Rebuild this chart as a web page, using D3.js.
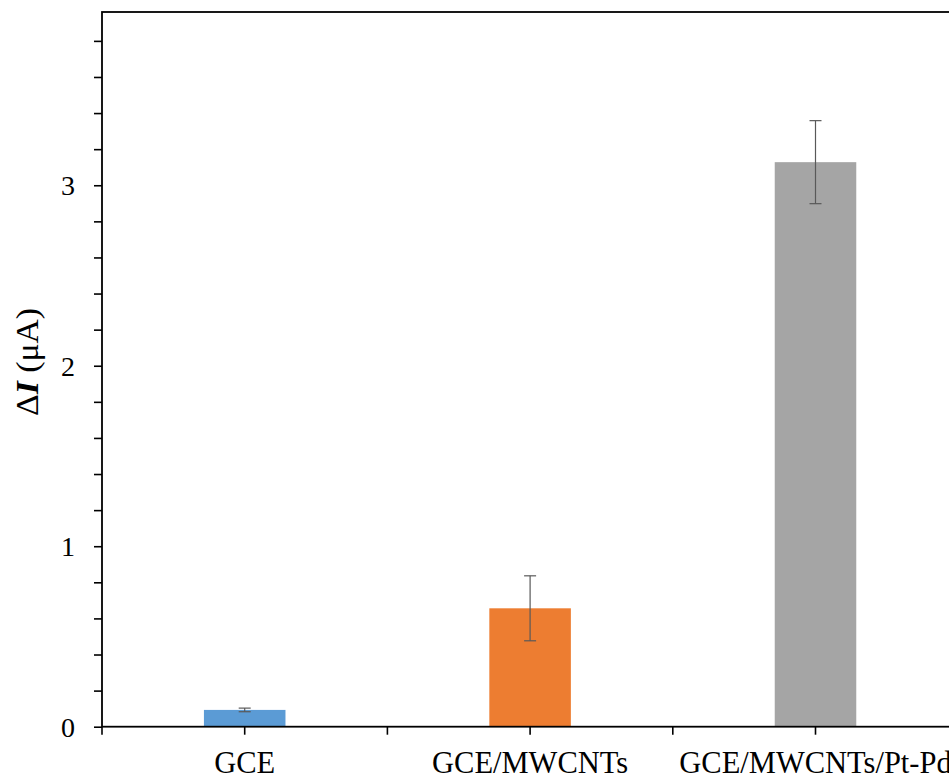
<!DOCTYPE html>
<html>
<head>
<meta charset="utf-8">
<script src="https://cdn.jsdelivr.net/npm/d3@7"></script>
<style>
  html, body { margin: 0; padding: 0; background: #fff; overflow: hidden; }
  svg { display: block; }
</style>
</head>
<body>
<svg id="chart" width="949" height="780"></svg>
<script>
// ---- data ----
const categories = ["GCE", "GCE/MWCNTs", "GCE/MWCNTs/Pt-Pd"];
const values = [0.093, 0.656, 3.128];
const errors = [0.010, 0.180, 0.230];
const colors = ["#5B9BD5", "#ED7D31", "#A5A5A5"];
const yMajorTicks = [0, 1, 2, 3];
const yMinorStep = 0.2;
const yMax = 3.96;

// ---- layout ----
(function () {
const svg = d3.select("#chart");
const mLeft = 102, mRight = 958.2, mBottom = 726.7, mTop = 12;
const font = "'Liberation Serif', 'Times New Roman', serif";

const x = d3.scaleBand().domain(categories).range([mLeft, mRight]).paddingInner(0).paddingOuter(0);
const y = d3.scaleLinear().domain([0, yMax]).range([mBottom, mTop]);
const bw = x.bandwidth();
const barW = bw / 3.5;

// bars
svg.append("g").selectAll("rect").data(categories).join("rect")
  .attr("x", (d) => x(d) + bw / 2 - barW / 2)
  .attr("y", (d, i) => y(values[i]))
  .attr("width", barW)
  .attr("height", (d, i) => y(0) - y(values[i]))
  .attr("fill", (d, i) => colors[i]);

// error bars
const eg = svg.append("g").attr("stroke", "#595959").attr("stroke-width", 1.2).attr("fill", "none");
categories.forEach((c, i) => {
  const cx = x(c) + bw / 2;
  const y1 = y(values[i] + errors[i]), y2 = y(values[i] - errors[i]);
  eg.append("line").attr("x1", cx).attr("x2", cx).attr("y1", y1).attr("y2", y2);
  eg.append("line").attr("x1", cx - 6).attr("x2", cx + 6).attr("y1", y1).attr("y2", y1);
  eg.append("line").attr("x1", cx - 6).attr("x2", cx + 6).attr("y1", y2).attr("y2", y2);
});

// y axis with minor ticks
const allTicks = d3.range(0, yMax, yMinorStep).map(v => +v.toFixed(2));
const yAxis = d3.axisLeft(y).tickValues(allTicks).tickSize(8).tickSizeOuter(0)
  .tickFormat(d => yMajorTicks.includes(d) ? d3.format("d")(d) : "");
const yg = svg.append("g").attr("transform", `translate(${mLeft},0)`).call(yAxis);
yg.select(".domain").remove();
yg.selectAll(".tick line").attr("stroke", "#000").attr("stroke-width", 1.6);
yg.selectAll(".tick text").attr("x", -27).attr("dy", "0.34em")
  .style("font-family", font).style("font-size", "28px").attr("fill", "#000");

// x axis ticks at boundaries and centers
const xTicks = [];
categories.forEach(c => { xTicks.push(x(c)); xTicks.push(x(c) + bw / 2); });
xTicks.push(mRight);
svg.append("g").selectAll("line").data(xTicks).join("line")
  .attr("x1", d => d).attr("x2", d => d).attr("y1", mBottom).attr("y2", mBottom + 8)
  .attr("stroke", "#000").attr("stroke-width", 1.6);

// x labels
svg.append("g").selectAll("text").data(categories).join("text")
  .attr("x", d => x(d) + bw / 2).attr("y", 773)
  .attr("text-anchor", "middle")
  .style("font-family", font).style("font-size", "30.5px").attr("fill", "#000")
  .text(d => d);

// frame
svg.append("rect").attr("x", mLeft).attr("y", mTop).attr("width", mRight - mLeft).attr("height", mBottom - mTop)
  .attr("fill", "none").attr("stroke", "#000").attr("stroke-width", 1.8);

// y label
const yl = svg.append("text")
  .attr("transform", `translate(38,${362}) rotate(-90)`)
  .attr("text-anchor", "middle")
  .attr("textLength", 108).attr("lengthAdjust", "spacingAndGlyphs")
  .style("font-family", font).style("font-size", "32px").attr("fill", "#000");
yl.append("tspan").text("Δ");
yl.append("tspan").style("font-weight", "bold").style("font-style", "italic").text("I");
yl.append("tspan").text(" (μA)");
})();
</script>
</body>
</html>
